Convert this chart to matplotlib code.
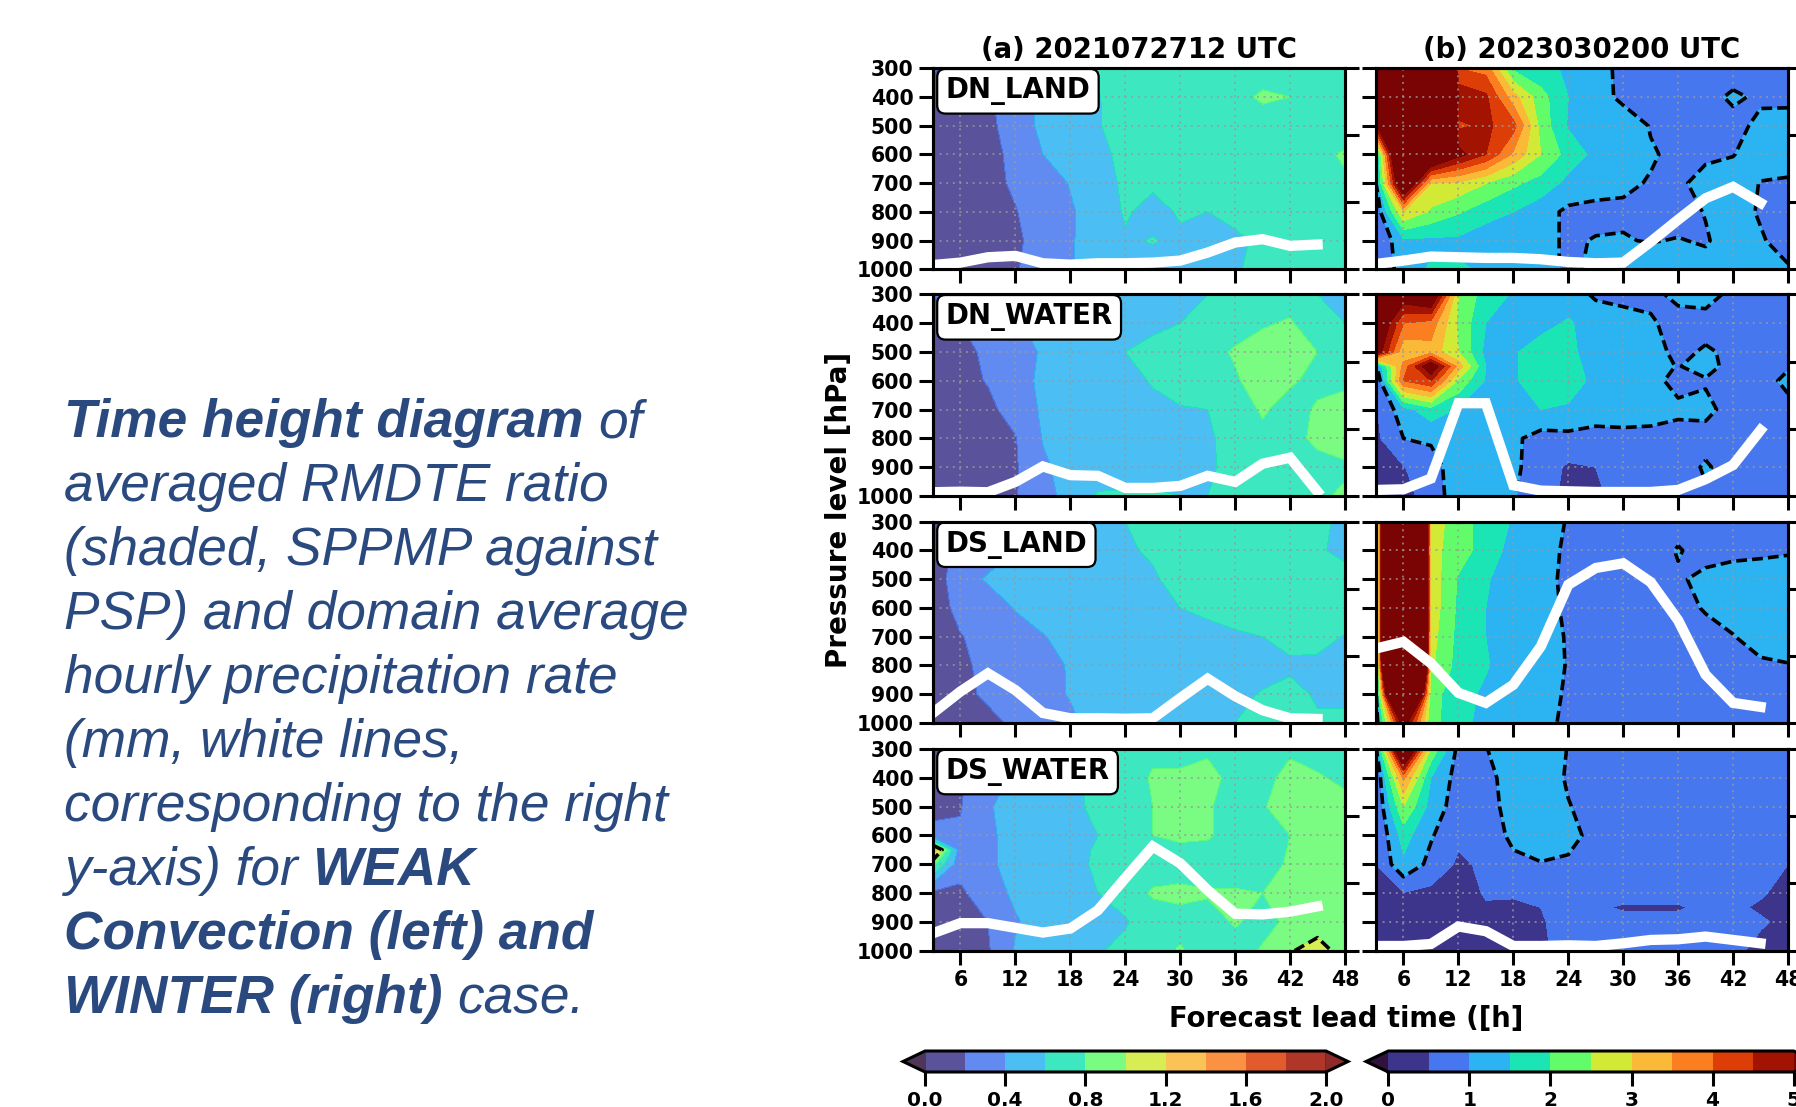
import numpy as np
import matplotlib
matplotlib.use("Agg")
import matplotlib.pyplot as plt
from matplotlib.colors import ListedColormap

W, H = 1796, 1107
hours = [3, 6, 9, 12, 15, 18, 21, 24, 27, 30, 33, 36, 39, 42, 45, 48]
line_hours = [3, 6, 9, 12, 15, 18, 21, 24, 27, 30, 33, 36, 39, 42, 45]
P8 = [300, 400, 500, 600, 700, 800, 900, 1000]
P_a4 = [300, 400, 500, 600, 650, 700, 800, 900, 1000]
P_b2 = [300, 400, 500, 550, 600, 700, 800, 900, 1000]
P_b4 = [300, 400, 500, 600, 700, 800, 850, 900, 1000]

a1 = [[.22,.12,.18,.30,.42,.50,.62,.68,.70,.70,.72,.72,.74,.74,.72,.70],
      [.10,.12,.17,.31,.44,.52,.59,.68,.72,.74,.74,.76,.82,.80,.74,.72],
      [.08,.10,.17,.26,.46,.52,.59,.66,.70,.72,.72,.72,.74,.74,.72,.70],
      [.08,.10,.15,.24,.40,.50,.55,.65,.70,.72,.72,.72,.72,.74,.76,.82],
      [.08,.10,.14,.23,.31,.41,.50,.64,.63,.66,.68,.70,.72,.72,.74,.78],
      [.08,.10,.12,.19,.30,.38,.48,.62,.54,.62,.60,.63,.66,.68,.70,.70],
      [.08,.09,.12,.17,.27,.39,.45,.58,.61,.57,.56,.58,.62,.65,.68,.70],
      [.10,.10,.14,.19,.26,.39,.45,.50,.54,.55,.55,.59,.63,.65,.68,.70]]
a2 = [[.20,.22,.32,.40,.45,.50,.50,.55,.56,.58,.60,.66,.70,.72,.60,.55],
      [.15,.20,.28,.38,.45,.50,.55,.56,.57,.60,.63,.72,.78,.82,.68,.60],
      [.12,.17,.22,.32,.42,.52,.58,.60,.64,.68,.74,.82,.88,.88,.80,.75],
      [.12,.15,.21,.32,.44,.50,.53,.56,.61,.66,.68,.78,.88,.82,.76,.78],
      [.17,.14,.16,.27,.43,.50,.52,.55,.57,.59,.60,.72,.82,.74,.82,.84],
      [.10,.12,.15,.19,.41,.48,.50,.52,.54,.55,.57,.68,.76,.74,.84,.86],
      [.10,.11,.13,.18,.37,.47,.50,.52,.54,.55,.57,.66,.74,.76,.74,.78],
      [.10,.10,.12,.19,.30,.50,.62,.62,.62,.60,.60,.62,.70,.76,.78,.82]]
a3 = [[.08,.25,.30,.38,.42,.48,.52,.60,.63,.65,.66,.68,.68,.66,.62,.58],
      [.08,.28,.32,.40,.46,.50,.54,.58,.62,.66,.68,.68,.68,.66,.62,.56],
      [.08,.33,.42,.47,.50,.52,.55,.58,.58,.66,.68,.70,.70,.70,.68,.66],
      [.10,.26,.31,.41,.48,.52,.55,.57,.58,.60,.62,.66,.68,.70,.70,.68],
      [.19,.19,.27,.33,.39,.46,.52,.54,.56,.60,.57,.58,.60,.66,.66,.59],
      [.16,.17,.24,.30,.36,.41,.50,.53,.54,.55,.55,.55,.55,.57,.56,.55],
      [.14,.17,.22,.28,.35,.41,.48,.52,.53,.54,.54,.57,.61,.65,.58,.58],
      [.12,.13,.17,.22,.30,.37,.46,.50,.52,.54,.54,.60,.63,.66,.62,.62]]
a4 = [[.16,.18,.30,.45,.56,.60,.64,.68,.76,.76,.78,.74,.76,.78,.72,.66],
      [.15,.18,.30,.44,.52,.58,.62,.70,.82,.82,.84,.76,.76,.84,.82,.76],
      [.15,.19,.38,.48,.54,.58,.62,.70,.80,.84,.82,.72,.79,.86,.88,.86],
      [.25,.22,.37,.46,.52,.58,.60,.68,.80,.82,.82,.72,.72,.80,.86,.86],
      [1.35,.30,.37,.46,.52,.57,.61,.68,.76,.78,.76,.71,.73,.81,.86,.86],
      [.85,.26,.37,.46,.52,.56,.62,.69,.72,.72,.68,.70,.74,.82,.86,.86],
      [.16,.17,.30,.44,.50,.56,.60,.70,.82,.84,.82,.82,.80,.84,.88,.86],
      [.12,.14,.20,.38,.48,.54,.58,.58,.72,.74,.72,.82,.74,.84,.88,.86],
      [.10,.12,.18,.42,.50,.55,.58,.66,.72,.82,.70,.72,.82,.98,1.10,.90]]

b1 = [[5.6,9,25,4.0,3.8,1.9,1.6,1.45,1.15,.90,.85,.85,.85,.70,.85,.85],
      [6,9,25,4.9,4.6,3.2,2.2,1.5,1.15,.92,.88,.85,.80,1.1,.90,.88],
      [4.8,9,18,4.4,4.6,4.2,2.3,1.45,1.35,1.2,.98,.82,.85,.80,1.15,1.2],
      [1.3,8,6.5,5.2,4.5,3.4,2.5,1.8,1.35,1.15,1.03,.93,.92,.98,1.25,1.3],
      [1.0,6.5,3.0,2.9,2.5,2.1,1.8,1.35,1.15,1.05,.98,.92,1.15,1.25,.98,.92],
      [.60,3.0,2.4,2.05,1.7,1.5,1.2,.90,.90,.95,.90,.85,1.02,1.2,.95,.85],
      [.47,1.4,1.4,1.4,1.2,1.15,1.1,.95,1.02,1.02,.98,1.02,.96,1.2,1.05,.80],
      [.40,1.3,1.55,1.55,1.45,1.3,1.2,.90,1.1,1.2,1.25,1.2,1.15,1.3,1.3,1.05]]
b2 = [[5.5,5.5,6,2.5,1.75,1.45,1.3,1.25,.92,.85,.90,1.1,1.15,.90,.85,.85],
      [6,4.0,3.8,2.4,1.5,1.3,1.35,1.55,1.3,1.2,1.05,.85,.85,.85,.85,.88],
      [5.5,3.1,3.3,2.5,1.35,1.45,1.7,1.6,1.3,1.2,1.15,.90,1.05,.92,.85,.95],
      [.90,3.7,5.6,3.3,1.5,1.45,1.7,1.62,1.38,1.2,1.15,.98,1.15,.85,.85,.95],
      [.45,4.0,4.5,2.4,1.45,1.45,1.7,1.68,1.4,1.25,1.12,.88,.96,.85,.80,1.12],
      [.45,1.3,1.8,1.45,1.15,1.35,1.5,1.45,1.3,1.25,1.2,1.08,1.1,.85,.85,.85],
      [.40,1.0,1.05,1.5,1.1,1.1,.80,.85,.78,.85,.85,.85,.85,.85,.85,.85],
      [.30,.47,.85,1.2,1.05,1.1,.75,.43,.50,.80,.80,.80,1.05,.82,.80,.80],
      [.30,.42,.60,1.4,1.15,1.05,.62,.42,.40,.70,.75,.80,.95,.80,.75,.75]]
b3 = [[.90,21,2.8,2.2,1.8,1.45,1.2,.97,.80,.80,.80,.85,.85,.85,.85,.85],
      [.90,21,2.7,2.2,1.8,1.3,1.18,.92,.80,.80,.80,1.03,.85,.88,.90,.95],
      [.90,21,2.8,1.95,1.55,1.25,1.15,.90,.80,.80,.80,.95,1.1,1.2,1.25,1.25],
      [.90,21,2.8,1.9,1.5,1.2,1.15,.93,.80,.80,.80,.80,1.05,1.2,1.2,1.1],
      [.95,21,2.7,1.85,1.5,1.2,1.15,.97,.80,.80,.80,.80,.80,.98,1.2,1.3],
      [.80,21,2.6,1.8,1.55,1.2,1.15,.98,.80,.80,.80,.80,.80,.80,.92,.97],
      [.90,12,2.2,1.7,1.4,1.15,1.15,.95,.80,.80,.80,.80,.80,.80,.80,.80],
      [.70,5.5,2.1,1.8,1.2,1.1,1.1,.93,.80,.80,.80,.80,.80,.80,.80,.80]]
b4 = [[.90,7,2.4,.85,.98,1.3,1.3,.98,.80,.80,.80,.80,.80,.80,.80,.80],
      [.50,3.6,1.5,.80,.90,1.15,1.25,.95,.80,.80,.80,.80,.80,.80,.80,.80],
      [.50,2.5,1.3,.75,.85,1.15,1.25,1.02,.85,.80,.80,.80,.80,.80,.80,.80],
      [.50,1.7,1.05,.60,.75,1.1,1.3,1.1,.90,.80,.80,.80,.80,.80,.80,.80],
      [.50,1.4,.85,.42,.58,.90,.97,.95,.95,.80,.80,.80,.80,.80,.80,.50],
      [.35,.48,.38,.35,.53,.52,.60,.80,.80,.80,.80,.80,.80,.80,.55,.35],
      [.33,.40,.36,.33,.47,.47,.50,.70,.62,.41,.41,.41,.70,.58,.44,.35],
      [.30,.30,.35,.30,.40,.42,.44,.75,.75,.75,.75,.75,.75,.80,.55,.40],
      [.30,.30,.30,.30,.35,.38,.40,.70,.75,.70,.70,.70,.70,.60,.38,.30]]

pr_a1 = [.064,.10,.18,.20,.09,.07,.09,.09,.10,.13,.25,.40,.45,.35,.37]
pr_a2 = [.056,.064,.056,.21,.44,.31,.30,.12,.12,.15,.30,.21,.48,.57,.064]
pr_a3 = [.15,.47,.74,.49,.15,.07,.07,.064,.07,.37,.66,.40,.19,.07,.06]
pr_a4 = [.26,.41,.41,.34,.27,.33,.60,1.08,1.55,1.30,.90,.55,.54,.58,.66]
pr_b1 = [.08,.13,.19,.18,.17,.17,.15,.11,.09,.10,.41,.74,1.06,1.23,.99]
pr_b2 = [.09,.10,.26,1.38,1.38,.16,.08,.07,.06,.06,.06,.09,.25,.46,.98]
pr_b3 = [1.11,1.21,.89,.45,.30,.57,1.14,2.06,2.31,2.38,2.10,1.53,.72,.30,.24]
pr_b4 = [.07,.07,.10,.36,.29,.07,.07,.08,.07,.11,.16,.17,.21,.16,.11]

region_names = ["DN_LAND", "DN_WATER", "DS_LAND", "DS_WATER"]
col_titles = ["(a) 2021072712 UTC", "(b) 2023030200 UTC"]
level_a = np.round(np.arange(0, 2.01, 0.2), 1)
level_b = np.arange(0, 5.01, 0.5)
tick_a = [0.0, 0.4, 0.8, 1.2, 1.6, 2.0]
tick_b = [0, 1, 2, 3, 4, 5]
x_ticks = [6, 12, 18, 24, 30, 36, 42, 48]
y_ticks = [300, 400, 500, 600, 700, 800, 900, 1000]
band_colors = ['#3d358b', '#4777ef', '#2bb3f2', '#1be5b5', '#62fc6b',
               '#d2e935', '#fbb938', '#fb7e21', '#dd3e08', '#a21301']

cmap = ListedColormap(band_colors)
cmap.set_under('#30123b')
cmap.set_over('#7a0403')

LW = 2.2
TICK = 14
plt.rcParams['font.family'] = 'DejaVu Sans'
plt.rcParams['font.weight'] = 'bold'
fig = plt.figure(figsize=(W / 100, H / 100), dpi=100)


def px_axes(x0, y0, x1, y1):
    return fig.add_axes([x0 / W, 1 - y1 / H, (x1 - x0) / W, (y1 - y0) / H])


rows_px = [(68.3, 269.3), (294.3, 496), (521.7, 723), (749, 950.7)]
cols_px = [(933, 1345), (1376, 1788)]
fields = [[(a1, P8), (a2, P8), (a3, P8), (a4, P_a4)],
          [(b1, P8), (b2, P_b2), (b3, P8), (b4, P_b4)]]
precip = [[pr_a1, pr_a2, pr_a3, pr_a4], [pr_b1, pr_b2, pr_b3, pr_b4]]
levels = [level_a, level_b]
alphas = [0.85, 1.0]
sets = [None, None]

for c, (x0, x1) in enumerate(cols_px):
    for r, (y0, y1) in enumerate(rows_px):
        ax = px_axes(x0, y0, x1, y1)
        z, p = fields[c][r]
        cs = ax.contourf(hours, p, np.array(z), levels=levels[c], cmap=cmap,
                         extend='both', alpha=alphas[c])
        sets[c] = cs
        ax.contour(hours, p, np.array(z), levels=[1.0], colors='k',
                   linewidths=2.6, linestyles=[(0, (3.0, 1.4))])
        ax.set_xlim(3, 48)
        ax.set_ylim(1000, 300)
        ax.set_xticks(x_ticks)
        ax.set_yticks(y_ticks)
        ax.grid(True, ls=(0, (1, 2.4)), color='#9a9a9a', lw=1.4, alpha=0.75)
        ax.tick_params(length=TICK * .72, width=LW, labelsize=14.8, pad=4)
        ax.tick_params(labelbottom=(r == 3), labelleft=(c == 0))
        for s in ax.spines.values():
            s.set_linewidth(LW)
        if c == 0:
            ax.text((945.5 - x0) / (x1 - x0), 1 - 23 / (y1 - y0), region_names[r],
                    transform=ax.transAxes, fontsize=19.9, fontweight='bold',
                    ha='left', va='center', zorder=10,
                    bbox=dict(boxstyle='round,pad=0.3', fc='white', ec='k', lw=1.6))
        if r == 0:
            ax.set_title(col_titles[c], fontsize=19.8, fontweight='bold', pad=7.5)
        tw = ax.twinx()
        tw.plot(line_hours, precip[c][r], color='white', lw=7.4,
                solid_capstyle='projecting', solid_joinstyle='miter')
        tw.set_ylim(0, 3)
        tw.set_yticks([0, 1, 2, 3])
        tw.set_yticklabels([])
        tw.tick_params(length=TICK * .72, width=LW)
        for s in tw.spines.values():
            s.set_linewidth(LW)

# colour bars (axes span includes the triangular extensions)
for c, (x0, x1, t, fmt) in enumerate([(903, 1348, tick_a, '%.1f'), (1366, 1816, tick_b, '%d')]):
    cax = px_axes(x0, 1051, x1, 1072)
    cb = fig.colorbar(sets[c], cax=cax, orientation='horizontal', extendfrac=0.055,
                      ticks=t, format=fmt, drawedges=False)
    cb.ax.tick_params(length=TICK * .72, width=LW, labelsize=14.5, pad=3.5)
    cb.outline.set_linewidth(LW)

fig.text(1346 / W, 1 - 1019 / H, "Forecast lead time ([h]", fontsize=19.8,
         fontweight='bold', ha='center', va='center')
fig.text(839 / W, 1 - 510 / H, "Pressure level [hPa]", fontsize=20,
         fontweight='bold', rotation=90, ha='center', va='center')

# left-hand caption
caption = [
    [("Time height diagram", True), (" of", False)],
    [("averaged RMDTE ratio", False)],
    [("(shaded, SPPMP against", False)],
    [("PSP) and domain average", False)],
    [("hourly precipitation rate", False)],
    [("(mm, white lines,", False)],
    [("corresponding to the right", False)],
    [("y-axis) for ", False), ("WEAK", True)],
    [("Convection (left) and", True)],
    [("WINTER (right)", True), (" case.", False)],
]
rend = fig.canvas.get_renderer()
FS = 38.3
for i, segs in enumerate(caption):
    x = 64.0
    y = 437 + 64 * i
    for s, bold in segs:
        lead = len(s) - len(s.lstrip())
        trail = len(s) - len(s.rstrip())
        x += lead * 0.278 * FS / 0.72
        t = fig.text(x / W, 1 - y / H, s.strip(), fontsize=FS, style='italic',
                     family='Liberation Sans', color='#2a4a7f',
                     fontweight='bold' if bold else 'normal', va='baseline', ha='left')
        x += t.get_window_extent(rend).width + trail * 0.278 * FS / 0.72

fig.savefig('out.png', dpi=100, facecolor='white')
